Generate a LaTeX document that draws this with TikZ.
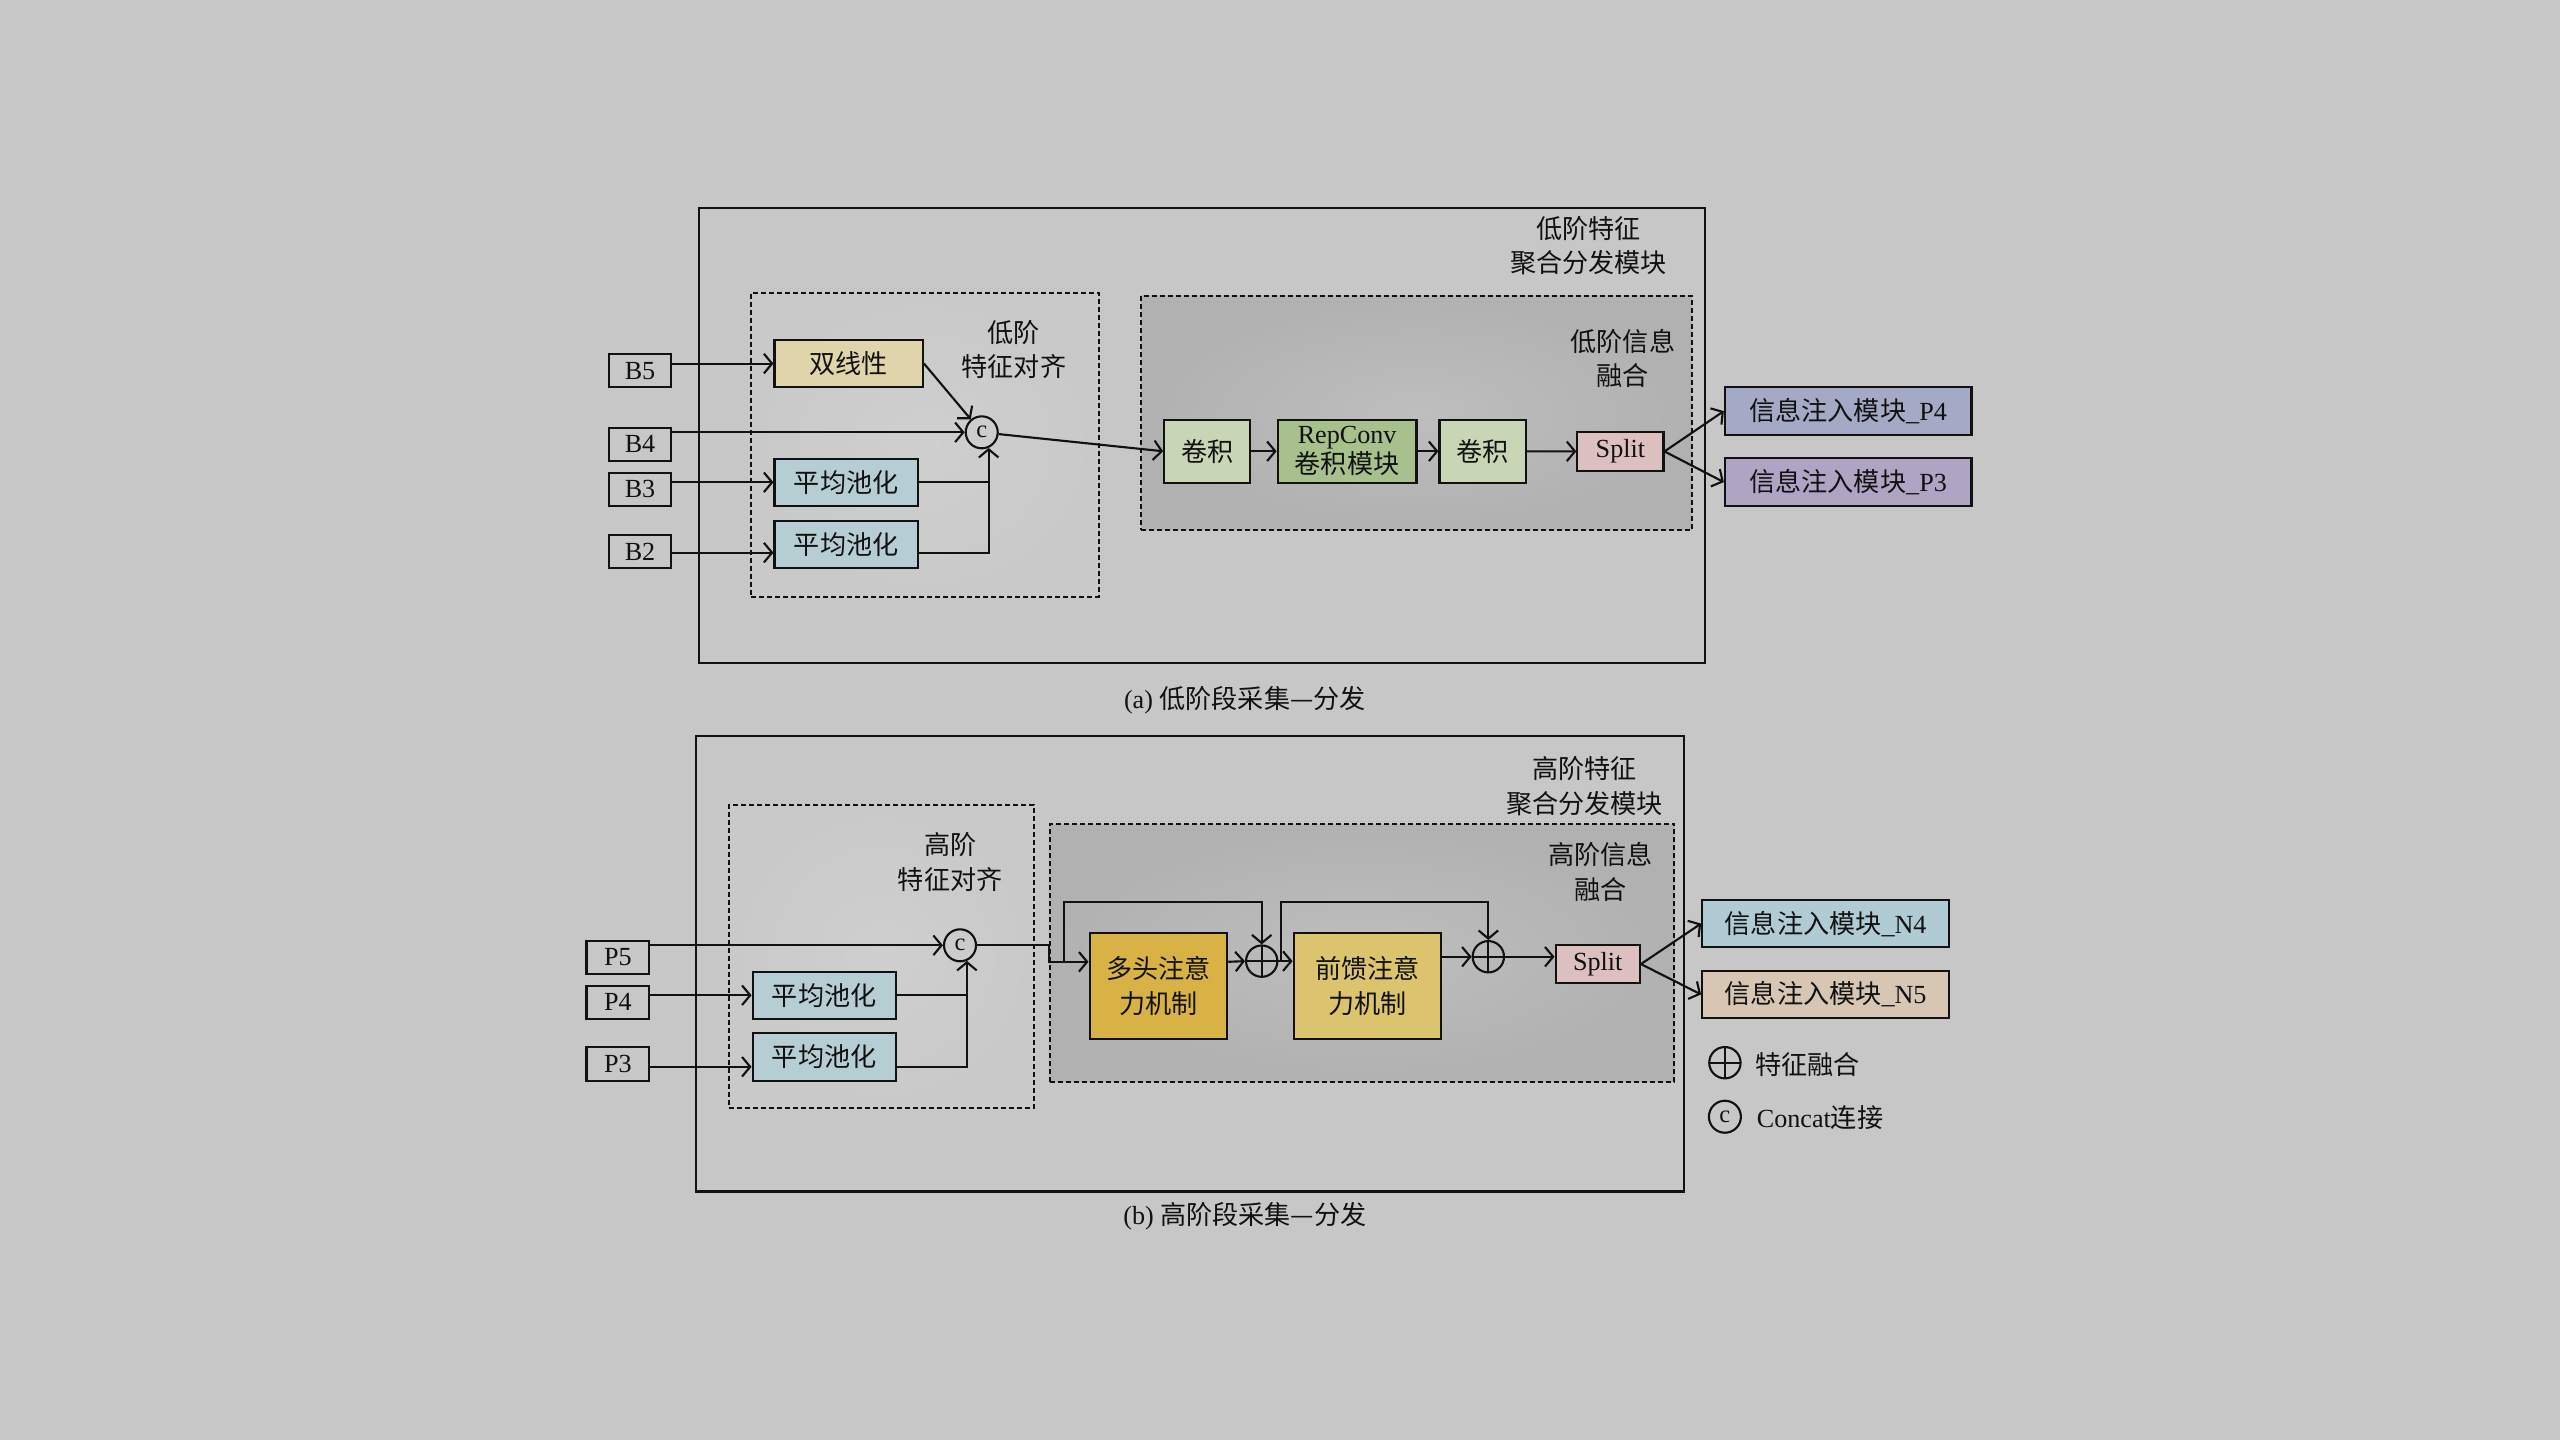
\documentclass[tikz,border=0pt]{standalone}
\usepackage{fontspec}
\setmainfont{Liberation Serif}
\newfontfamily\cjk{Noto Sans CJK SC}
\usetikzlibrary{arrows.meta,calc}
\definecolor{bgc}{HTML}{C7C7C7}
\definecolor{ink}{HTML}{111111}
\definecolor{cBil}{HTML}{E0D4AA}
\definecolor{cPool}{HTML}{B6CED3}
\definecolor{cConv}{HTML}{C9D6B5}
\definecolor{cRep}{HTML}{A8C08B}
\definecolor{cSplit}{HTML}{DCC0C0}
\definecolor{cPfour}{HTML}{A4A9C6}
\definecolor{cPthree}{HTML}{B0A4C4}
\definecolor{cMh}{HTML}{D9B245}
\definecolor{cFf}{HTML}{DCC46F}
\definecolor{cNfour}{HTML}{B0CBD3}
\definecolor{cNfive}{HTML}{D8C6B4}
\definecolor{dLightIn}{HTML}{CFCFCF}
\definecolor{dLightOut}{HTML}{C9C9C9}
\definecolor{dDarkIn}{HTML}{BEBEBE}
\definecolor{dDarkOut}{HTML}{B1B1B1}
\newcommand\fs{\fontsize{16}{20}\selectfont}
\tikzset{
 ln/.style={line width=1.3pt, draw=ink},
 arr/.style={ln, -{Straight Barb[length=5pt,width=12pt]}},
 blk/.style={draw=ink, line width=1.3pt, inner sep=0pt, align=center, text=ink, font=\cjk\fs},
 inbox/.style={blk, font=\fs, minimum width=38.4pt, minimum height=20.3pt},
 obox/.style={draw=ink, line width=1.3pt, inner sep=0pt},
 dbox/.style={draw=ink, line width=1.3pt, dash pattern=on 3pt off 1.9pt, inner sep=0pt},
 dlight/.style={dbox, shade, inner color=dLightIn, outer color=dLightOut},
 ddark/.style={dbox, shade, inner color=dDarkIn, outer color=dDarkOut},
 lbl/.style={align=center, text=ink, font=\cjk\fontsize{16}{21}\selectfont, inner sep=0pt},
 cc/.style={circle, draw=ink, line width=1.3pt, minimum size=19.6pt, inner sep=0pt, text=ink, font=\fontsize{15}{15}\selectfont},
 pc/.style={circle, draw=ink, line width=1.3pt, minimum size=19.2pt, inner sep=0pt,
   path picture={\draw[ink, line width=1.3pt] (path picture bounding box.north) -- (path picture bounding box.south) (path picture bounding box.west) -- (path picture bounding box.east);}},
}
\begin{document}
\begin{tikzpicture}[x=1pt,y=-1pt]
\fill[bgc] (0,0) rectangle (1568,882);
\useasboundingbox (0,0) rectangle (1568,882);

% ---------------- panel (a) ----------------
\node[obox, minimum width=616.5pt, minimum height=278.7pt] (oa) at (736.25,266.65) {};
\node[dlight, minimum width=212.7pt, minimum height=186.3pt] (d1) at (566.55,272.35) {};
\node[ddark, minimum width=337.4pt, minimum height=143.3pt] (d2) at (867.6,252.95) {};
\node[lbl] (ta) at (973,150.5) {低阶特征\\聚合分发模块};
\node[lbl] (tal) at (621,214) {低阶\\特征对齐};
\node[lbl] (taf) at (994,219.5) {低阶信息\\融合};

\node[inbox] (B5) at (392,227.1) {B5};
\node[inbox] (B4) at (392,272.2) {B4};
\node[inbox] (B3) at (392,299.7) {B3};
\node[inbox] (B2) at (392,337.9) {B2};

\node[blk, fill=cBil, minimum width=90.9pt, minimum height=29pt] (bil) at (519.85,222.7) {双线性};
\node[blk, fill=cPool, minimum width=87.8pt, minimum height=29pt] (pa1) at (518.3,295.4) {平均池化};
\node[blk, fill=cPool, minimum width=87.8pt, minimum height=29pt] (pa2) at (518.3,333.5) {平均池化};
\node[cc] (C) at (601.3,264.8) {c};

\node[blk, fill=cConv, minimum width=52.7pt, minimum height=38.4pt] (cv1) at (739.4,276.4) {卷积};
\node[blk, fill=cRep, minimum width=85pt, minimum height=38.4pt, font=\fontsize{16}{18.5}\selectfont] (rep) at (825.1,276.4) {RepConv\\{\cjk 卷积模块}};
\node[blk, fill=cConv, minimum width=52.8pt, minimum height=38.4pt] (cv2) at (908.1,276.4) {卷积};
\node[blk, fill=cSplit, font=\fs, minimum width=52.7pt, minimum height=23.5pt] (sp1) at (992.5,276.5) {Split};
\node[blk, fill=cPfour, minimum width=151pt, minimum height=29.2pt] (op4) at (1132,251.8) {信息注入模块{\rmfamily\_P4}};
\node[blk, fill=cPthree, minimum width=151pt, minimum height=29.2pt] (op3) at (1132,295.3) {信息注入模块{\rmfamily\_P3}};

\node[text=ink, font=\fs, inner sep=0pt] (capa) at (762.5,428.7) {(a) {\cjk 低阶段采集—分发}};

\draw[arr] (B5.east |- bil.west) -- (bil.west);
\draw[arr] (B4.east |- C.west) -- (C.west);
\draw[arr] (B3.east |- pa1.west) -- (pa1.west);
\coordinate (l2) at ([yshift=-5pt]pa2.west);
\draw[arr] (B2.east |- l2) -- (l2);
\draw[arr] (bil.east) -- (C);
\draw[arr] (pa1.east) -| (C.-66);
\draw[ln] (l2 -| pa2.east) -| (pa1.east -| C.-66);
\draw[arr] (C) -- (cv1.west);
\draw[arr] (cv1) -- (rep);
\draw[arr] (rep) -- (cv2);
\draw[arr] (cv2) -- (sp1);
\draw[arr] (sp1.east) -- (op4.west);
\draw[arr] (sp1.east) -- (op3.west);

% ---------------- panel (b) ----------------
\node[obox, minimum width=604.9pt, minimum height=279pt] (ob) at (728.75,590.3) {};
\node[dlight, minimum width=186.6pt, minimum height=185.8pt] (d3) at (540,585.9) {};
\node[ddark, minimum width=382.6pt, minimum height=157.8pt] (d4) at (834.2,583.6) {};
\node[lbl] (tb) at (970.5,481.5) {高阶特征\\聚合分发模块};
\node[lbl] (tbl) at (582,528) {高阶\\特征对齐};
\node[lbl] (tbf) at (980.5,534) {高阶信息\\融合};

\node[inbox] (P5) at (378.4,586.4) {P5};
\node[inbox] (P4) at (378.4,613.9) {P4};
\node[inbox] (P3) at (378.4,651.7) {P3};

\node[blk, fill=cPool, minimum width=87.6pt, minimum height=29pt] (pb1) at (504.8,609.6) {平均池化};
\node[blk, fill=cPool, minimum width=87.6pt, minimum height=29pt] (pb2) at (504.8,647.4) {平均池化};
\node[cc] (C2) at (588,579) {c};

\node[blk, fill=cMh, minimum width=84.3pt, minimum height=64.9pt, font=\cjk\fontsize{16}{21.5}\selectfont] (mh) at (709.5,604.1) {多头注意\\力机制};
\node[blk, fill=cFf, minimum width=90.3pt, minimum height=64.9pt, font=\cjk\fontsize{16}{21.5}\selectfont] (ff) at (837.5,604.1) {前馈注意\\力机制};
\node[pc] (pl1) at (772.8,588.7) {};
\node[pc] (pl2) at (911.6,586) {};
\node[blk, fill=cSplit, font=\fs, minimum width=51.6pt, minimum height=23.5pt] (sp2) at (978.6,590.5) {Split};
\node[blk, fill=cNfour, minimum width=151.3pt, minimum height=29pt] (n4) at (1118.2,565.7) {信息注入模块{\rmfamily\_N4}};
\node[blk, fill=cNfive, minimum width=151.3pt, minimum height=29pt] (n5) at (1118.2,609.1) {信息注入模块{\rmfamily\_N5}};

\node[pc] (lg1) at (1056.5,650.9) {};
\node[lbl, anchor=west] (lg1t) at (1074.9,652.3) {特征融合};
\node[cc] (lg2) at (1056.5,684) {c};
\node[lbl, anchor=west, font=\fs] (lg2t) at (1075.9,684.5) {Concat{\cjk 连接}};

\node[text=ink, font=\fs, inner sep=0pt] (capb) at (762.5,745) {(b) {\cjk 高阶段采集—分发}};

\draw[arr] (P5.east |- C2.west) -- (C2.west);
\draw[arr] (P4.east |- pb1.west) -- (pb1.west);
\coordinate (l4) at ([yshift=-6pt]pb2.west);
\draw[arr] (P3.east |- l4) -- (l4);
\draw[arr] (pb1.east) -| (C2.-66);
\draw[ln] (l4 -| pb2.east) -| (pb1.east -| C2.-66);
\coordinate (min) at ([yshift=15pt]mh.west);
\draw[arr] (C2.east) -- (C2.east -| d4.west) |- (min);
\coordinate (j1) at ([xshift=-15pt]min);
\draw[arr] (j1) -- ++(0,-36.5) -| (pl1.north);
\draw[arr] (min -| mh.east) -- (pl1.west);
\draw[arr] (pl1.east) -- (pl1.east -| ff.west);
\coordinate (j2) at ([xshift=1.6pt]pl1.east);
\draw[arr] (j2) -- ++(0,-36.2) -| (pl2.north);
\draw[arr] (ff.east |- pl2.west) -- (pl2.west);
\draw[arr] (pl2.east) -- (pl2.east -| sp2.west);
\draw[arr] (sp2.east) -- (n4.west);
\draw[arr] (sp2.east) -- (n5.west);
\end{tikzpicture}
\end{document}
